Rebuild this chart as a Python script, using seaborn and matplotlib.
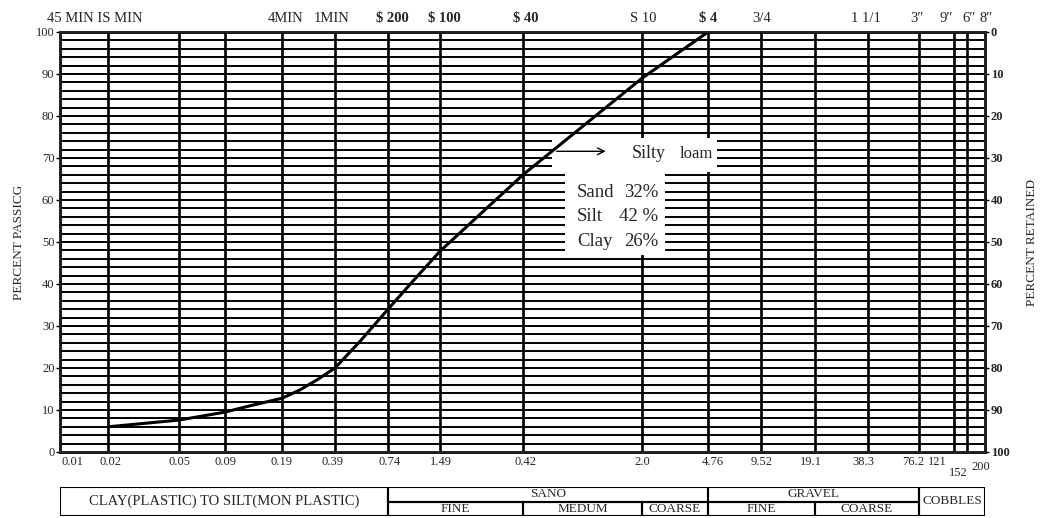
import matplotlib
matplotlib.use("Agg")
import matplotlib.pyplot as plt
from matplotlib.patches import Rectangle
import pandas as pd
import seaborn as sns

# sheet x scale: chart units 0-100 across the plotting area
grid_x = [0, 5.19, 12.86, 17.84, 24.0, 29.73, 35.46, 41.08, 50.05, 62.92,
          70.05, 75.78, 81.62, 87.35, 92.86, 96.65, 98.05, 100]

bottom_labels = ["0.01", "0.02", "0.05", "0.09", "0.19", "0.39", "0.74", "1.49",
                 "0.42", "2.0", "4.76", "9.52", "19.1", "38.3", "76.2", "121"]
bottom_pos = [1.3, 5.5, 12.97, 17.84, 23.9, 29.5, 35.6, 41.2,
              50.3, 63.0, 70.6, 75.9, 81.2, 86.9, 92.2, 94.8]
low_labels = ["152", "200"]
low_pos = [97.1, 99.5]

top_labels = ["45 MIN IS MIN", "4MIN", "1MIN", r"\$ 200", r"\$ 100", r"\$ 40",
              "S 10", r"\$ 4", "3/4", "1 1/1", "3″", "9″", "6″", "8″"]
top_pos = [3.8, 24.4, 29.4, 35.9, 41.5, 50.3, 63.1, 70.1, 75.9, 87.1,
           92.6, 95.8, 98.3, 100.1]

# grading curve, percent passing at sheet positions
curve_x = [5.19, 12.86, 17.84, 20.54, 24.0, 25.95, 27.8, 29.73, 32.5, 35.46, 38.2, 41.08, 50.05, 62.92, 70.05]
curve_pct = [6.0, 7.6, 9.5, 11.0, 12.8, 14.8, 17.2, 20.0, 26.5, 34.0, 40.8, 47.8, 66.0, 89.0, 100.0]

# classification strip: (label, x0, x1, row) row 0 = lower half, 1 = upper, 2 = full
strip = [
    ("CLAY(PLASTIC) TO SILT(MON PLASTIC)", 0, 35.46, 2),
    ("SANO", 35.46, 70.05, 1),
    ("FINE", 35.46, 50.05, 0),
    ("MEDUM", 50.05, 62.92, 0),
    ("COARSE", 62.92, 70.05, 0),
    ("GRAVEL", 70.05, 92.86, 1),
    ("FINE", 70.05, 81.62, 0),
    ("COARSE", 81.62, 92.86, 0),
    ("COBBLES", 92.86, 100, 2),
]

sns.set_theme(style="white")
plt.rcParams["font.family"] = ["Liberation Serif", "DejaVu Serif"]

fig = plt.figure(figsize=(10.41, 5.18), dpi=100)
ax = fig.add_axes([60 / 1041, 1 - 452 / 518, 925 / 1041, 420 / 518])

# grid
for y in range(2, 100, 2):
    ax.axhline(y, color="black", lw=1.4, zorder=1)
for x in grid_x[1:-1]:
    ax.axvline(x, color="black", lw=1.9, zorder=1)

# white patches behind the annotation
ax.add_patch(Rectangle((53.2, 66.7), 17.8, 8.1, facecolor="white", edgecolor="none", zorder=2))
ax.add_patch(Rectangle((54.6, 46.9), 10.8, 19.8, facecolor="white", edgecolor="none", zorder=2))

df = pd.DataFrame({"x": curve_x, "pct": curve_pct})
sns.lineplot(data=df, x="x", y="pct", ax=ax, color="black", lw=2.2, zorder=4)

ax.set_xlim(0, 100)
ax.set_ylim(0, 100)
for s in ax.spines.values():
    s.set_color("black")
    s.set_linewidth(2)

ax.set_xticks([])
ax.set_yticks(range(0, 101, 10))
ax.tick_params(axis="y", labelsize=9, length=3, width=1, color="black", pad=1)
ax.set_xlabel("")
ax.set_ylabel("PERCENT PASSICG", fontsize=9.5, labelpad=8)

ax2 = ax.twinx()
ax2.set_ylim(100, 0)
ax2.set_yticks(range(0, 101, 10))
ax2.tick_params(axis="y", labelsize=9, length=3, width=1, color="black", pad=1)
ax2.set_ylabel("PERCENT RETAINED", fontsize=9.5, labelpad=12)
for lab in ax2.get_yticklabels():
    lab.set_fontweight("bold")

for lab, p in zip(bottom_labels, bottom_pos):
    ax.annotate(lab, xy=(p, 0), xycoords=("data", "axes fraction"), xytext=(0, -7),
                textcoords="offset points", ha="center", va="center", fontsize=9)
for lab, p, dy in zip(low_labels, low_pos, [-15, -11]):
    ax.annotate(lab, xy=(p, 0), xycoords=("data", "axes fraction"), xytext=(0, dy),
                textcoords="offset points", ha="center", va="center", fontsize=9)
for lab, p in zip(top_labels, top_pos):
    ax.annotate(lab, xy=(p, 1), xycoords=("data", "axes fraction"), xytext=(0, 10),
                textcoords="offset points", ha="center", va="center", fontsize=10.5,
                fontweight="bold" if lab.startswith("\\$") else "normal")

# annotation
ax.annotate("", xy=(59.3, 71.6), xytext=(53.4, 71.6),
            arrowprops=dict(arrowstyle="->", color="black", lw=1), zorder=5)
ax.text(61.8, 71.0, "Silty", fontsize=13, ha="left", va="center", zorder=5)
ax.text(67.0, 71.0, "loam", fontsize=12, ha="left", va="center", zorder=5)
for name, val, y in [("Sand", "32%", 61.7), ("Silt", "42 %", 56.0), ("Clay", "26%", 50.1)]:
    ax.text(55.9, y, name, fontsize=13.5, ha="left", va="center", zorder=5)
    ax.text(64.7, y, val, fontsize=13.5, ha="right", va="center", zorder=5)

# classification strip
axs = fig.add_axes([60 / 1041, 1 - 516 / 518, 925 / 1041, 29 / 518])
axs.set_xlim(0, 100)
axs.set_ylim(0, 2)
axs.axis("off")
for lab, x0, x1, row in strip:
    y0, h = (0, 2) if row == 2 else (row, 1)
    axs.add_patch(Rectangle((x0, y0), x1 - x0, h, facecolor="none", edgecolor="black", lw=1.5))
    size = 9.5 if row != 2 else (10.5 if x0 == 0 else 9.5)
    axs.text((x0 + x1) / 2, y0 + h / 2, lab, ha="center", va="center", fontsize=size)

fig.savefig("out.png", dpi=100)
